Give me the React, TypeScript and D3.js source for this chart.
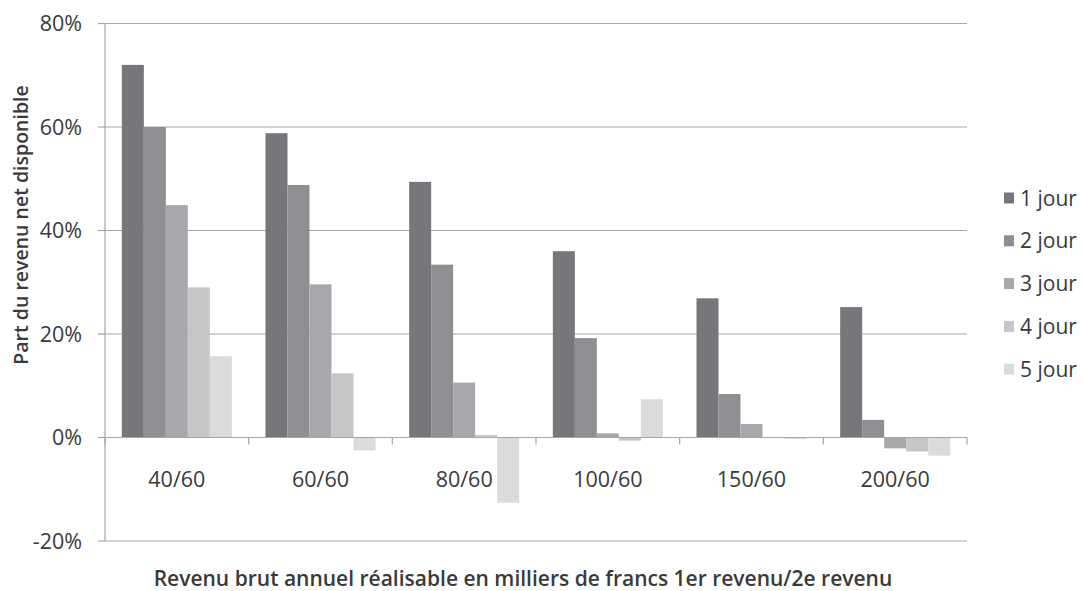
import React from "react";
import * as d3 from "d3";

const categories = ["40/60", "60/60", "80/60", "100/60", "150/60", "200/60"];
const seriesNames = ["1 jour", "2 jour", "3 jour", "4 jour", "5 jour"];
const jour1 = [72, 58.8, 49.4, 36, 26.9, 25.2];
const jour2 = [60, 48.8, 33.4, 19.2, 8.4, 3.4];
const jour3 = [44.9, 29.6, 10.6, 0.8, 2.6, -2.1];
const jour4 = [29, 12.4, 0.5, -0.6, 0, -2.7];
const jour5 = [15.7, -2.5, -12.6, 7.4, -0.3, -3.5];
const seriesValues = [jour1, jour2, jour3, jour4, jour5];
const colors = ["#76777b", "#8e8f93", "#a7a8ab", "#c5c6c8", "#dadbdd"];
const yTicks = [-20, 0, 20, 40, 60, 80];

const W = 1083;
const H = 591;
const left = 105;
const right = 967;
const top = 23.5;
const bottom = 541;
const font = "'Open Sans', 'DejaVu Sans', sans-serif";
const textColor = "#3a3a3a";
const gridColor = "#a6a6a6";

export default function App() {
  const y = d3.scaleLinear().domain([-20, 80]).range([bottom, top]);
  const x0 = d3.scaleBand<string>().domain(categories).range([left, right]).paddingInner(0).paddingOuter(0);
  const groupW = x0.bandwidth();
  const barW = groupW / (5 + 1.53);
  const x1 = d3
    .scaleBand<string>()
    .domain(seriesNames)
    .range([0, barW * 5]);
  const offset = (groupW - barW * 5) / 2;
  const y0 = y(0);

  return (
    <div style={{ position: "fixed", left: 0, top: 0, width: W, height: H, background: "#fff" }}>
      <svg width={W} height={H} style={{ display: "block" }}>
        {yTicks.map((t) => (
          <g key={t}>
            {t !== 0 && (
              <line x1={left} x2={right} y1={y(t)} y2={y(t)} stroke={gridColor} strokeWidth={1.2} />
            )}
            <line x1={left - 7} x2={left} y1={y(t)} y2={y(t)} stroke={gridColor} strokeWidth={1.2} />
            <text
              x={82}
              y={y(t)}
              dy="0.36em"
              textAnchor="end"
              fontFamily={font}
              fontSize={21.5}
              fill={textColor}
            >
              {t + "%"}
            </text>
          </g>
        ))}
        <line x1={left} x2={left} y1={top} y2={bottom} stroke={gridColor} strokeWidth={1.2} />
        {seriesValues.map((vals, si) =>
          vals.map((v, ci) => {
            const xx = (x0(categories[ci]) as number) + offset + (x1(seriesNames[si]) as number);
            const yy = Math.min(y(v), y0);
            const hh = Math.abs(y(v) - y0);
            return (
              <rect
                key={si + "-" + ci}
                x={xx}
                y={yy}
                width={x1.bandwidth()}
                height={hh}
                fill={colors[si]}
              />
            );
          })
        )}
        <line x1={left} x2={right} y1={y0} y2={y0} stroke={gridColor} strokeWidth={1.2} />
        {d3.range(categories.length + 1).map((i) => {
          const xx = left + i * groupW;
          return <line key={i} x1={xx} x2={xx} y1={y0} y2={y0 + 7} stroke={gridColor} strokeWidth={1.2} />;
        })}
        {categories.map((c) => (
          <text
            key={c}
            x={(x0(c) as number) + groupW / 2}
            y={487}
            textAnchor="middle"
            fontFamily={font}
            fontSize={21.5}
            fill={textColor}
          >
            {c}
          </text>
        ))}
        <text
          x={523}
          y={586}
          textAnchor="middle"
          fontFamily={font}
          fontSize={21}
          fontWeight={600}
          fill={textColor}
        >
          Revenu brut annuel réalisable en milliers de francs 1er revenu/2e revenu
        </text>
        <text
          transform={`translate(28, ${225}) rotate(-90)`}
          textAnchor="middle"
          fontFamily={font}
          fontSize={19.5}
          fontWeight={600}
          fill={textColor}
        >
          Part du revenu net disponible
        </text>
        {seriesNames.map((s, i) => (
          <g key={s} transform={`translate(1004, ${198 + i * 42.8})`}>
            <rect x={0} y={-5.5} width={10} height={11} fill={colors[i]} />
            <text x={16} y={0} dy="0.36em" fontFamily={font} fontSize={21} fill={textColor}>
              {s}
            </text>
          </g>
        ))}
      </svg>
    </div>
  );
}
